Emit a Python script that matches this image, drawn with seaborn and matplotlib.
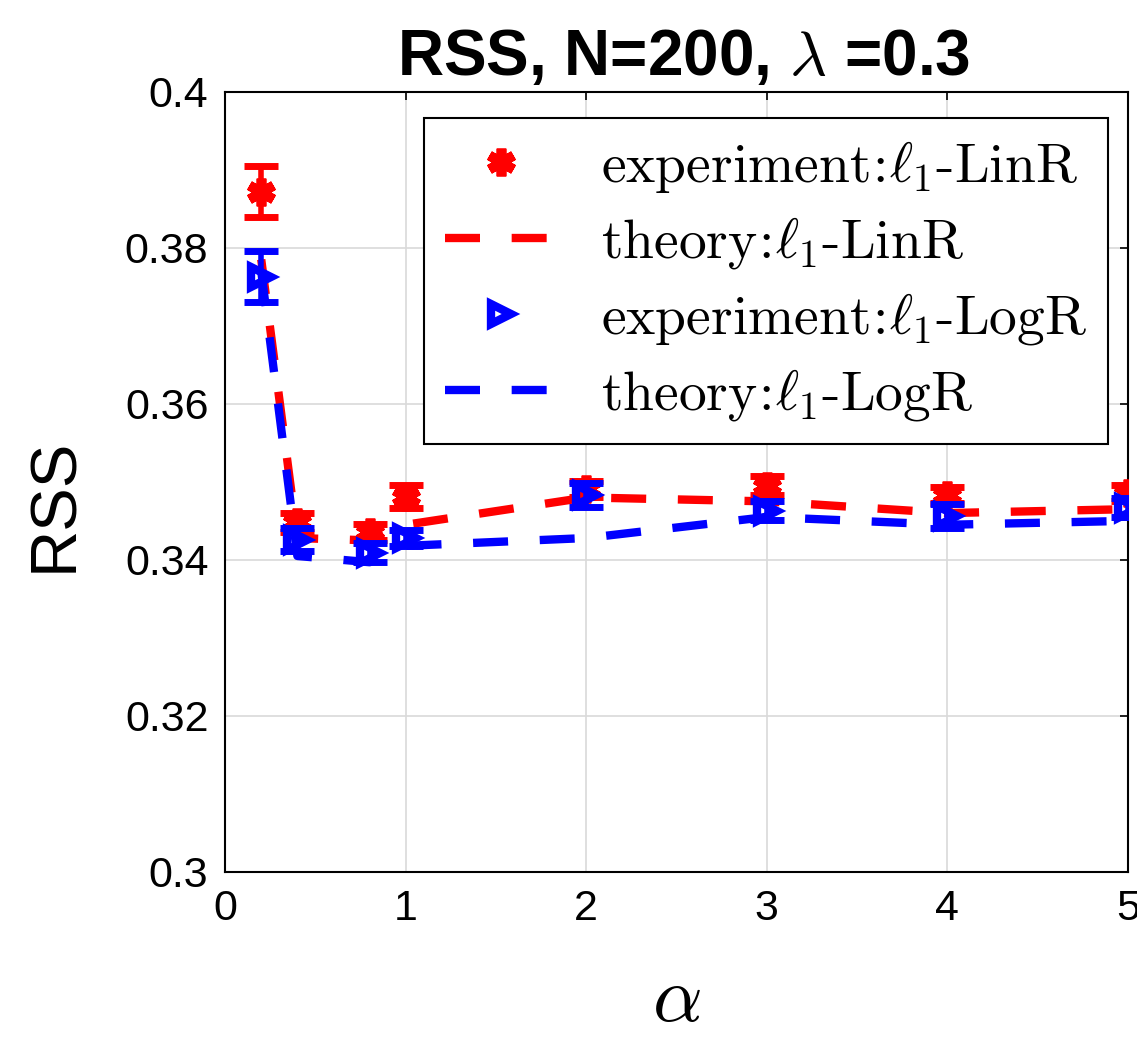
import numpy as np
import pandas as pd
import seaborn as sns
from matplotlib import pyplot as plt

alpha = [0.2, 0.4, 0.8, 1.0, 2.0, 3.0, 4.0, 5.0]
exp_lin = [0.3872, 0.3448, 0.3436, 0.3481, 0.3491, 0.3495, 0.3483, 0.3486]
err_lin = [0.0033, 0.0012, 0.0010, 0.0015, 0.0010, 0.0012, 0.0010, 0.0010]
exp_log = [0.3763, 0.3426, 0.3409, 0.3428, 0.3483, 0.3463, 0.3456, 0.3467]
err_log = [0.0033, 0.0015, 0.0012, 0.0010, 0.0015, 0.0012, 0.0015, 0.0012]
theo_lin = [0.3785, 0.3428, 0.3425, 0.3445, 0.3480, 0.3475, 0.3460, 0.3465]
theo_log = [0.3770, 0.3405, 0.3397, 0.3418, 0.3428, 0.3455, 0.3445, 0.3450]

labels = [r'$\mathrm{experiment\!:\!}\ell_1\mathrm{\text{-}LinR}$',
          r'$\mathrm{theory\!:\!}\ell_1\mathrm{\text{-}LinR}$',
          r'$\mathrm{experiment\!:\!}\ell_1\mathrm{\text{-}LogR}$',
          r'$\mathrm{theory\!:\!}\ell_1\mathrm{\text{-}LogR}$']

df = pd.DataFrame({'alpha': alpha, 'theo_lin': theo_lin, 'theo_log': theo_log})

sns.set_theme(style="whitegrid")
plt.rcParams['font.family'] = ['Liberation Sans', 'DejaVu Sans']
plt.rcParams['mathtext.fontset'] = 'cm'
plt.rcParams['text.color'] = 'black'
plt.rcParams['axes.labelcolor'] = 'black'

fig, ax = plt.subplots(figsize=(11.37, 10.43), dpi=100)
fig.subplots_adjust(left=0.198, right=0.992, bottom=0.164, top=0.912)

dash = (4.2, 3.8)
ax.errorbar(alpha, exp_lin, yerr=err_lin, fmt='none', ecolor='red', elinewidth=4,
            capsize=12, capthick=5, zorder=3)
ax.plot(alpha, exp_lin, linestyle='none', marker=(6, 2, 0), markersize=20,
        mew=7, color='red', zorder=3, label=labels[0])
sns.lineplot(data=df, x='alpha', y='theo_lin', ax=ax, color='red', lw=6,
             dashes=False, label=labels[1], zorder=2).lines[-1].set_dashes(dash)
ax.errorbar(alpha, exp_log, yerr=err_log, fmt='none', ecolor='blue', elinewidth=4,
            capsize=12, capthick=5, zorder=4)
ax.plot(alpha, exp_log, linestyle='none', marker='>', markersize=14, mew=6,
        mfc='none', color='blue', zorder=4, label=labels[2])
sns.lineplot(data=df, x='alpha', y='theo_log', ax=ax, color='blue', lw=6,
             dashes=False, label=labels[3], zorder=4).lines[-1].set_dashes(dash)

ax.set_xlim(0, 5)
ax.set_ylim(0.3, 0.4)
ax.set_xticks([0, 1, 2, 3, 4, 5])
ax.set_yticks([0.3, 0.32, 0.34, 0.36, 0.38, 0.4])
ax.set_yticklabels(['0.3', '0.32', '0.34', '0.36', '0.38', '0.4'])
ax.tick_params(labelsize=31, direction='in', length=6, width=1.2, pad=12,
               colors='black', top=True, right=True)
ax.grid(True, color='#d9d9d9', lw=1.2)
for s in ax.spines.values():
    s.set_color('black')
    s.set_linewidth(1.5)

ax.set_xlabel(r'$\alpha$', fontsize=56)
ax.xaxis.set_label_coords(0.5, -0.118)
ax.set_ylabel('RSS', fontsize=47)
ax.yaxis.set_label_coords(-0.155, 0.47)
ax.set_title(r'RSS, N=200, $\lambda$ =0.3', fontsize=46, fontweight='bold',
             pad=12, x=0.508)

handles, labs = ax.get_legend_handles_labels()
leg = ax.legend(handles, labs, loc='upper right', bbox_to_anchor=(0.978, 0.967),
                fontsize=40, frameon=True, fancybox=False, framealpha=1,
                edgecolor='black', handlelength=2.0, borderpad=0.38,
                labelspacing=0.36, handletextpad=0.8, borderaxespad=0)
leg.get_frame().set_linewidth(1.5)

fig.savefig('out.png', dpi=100)
